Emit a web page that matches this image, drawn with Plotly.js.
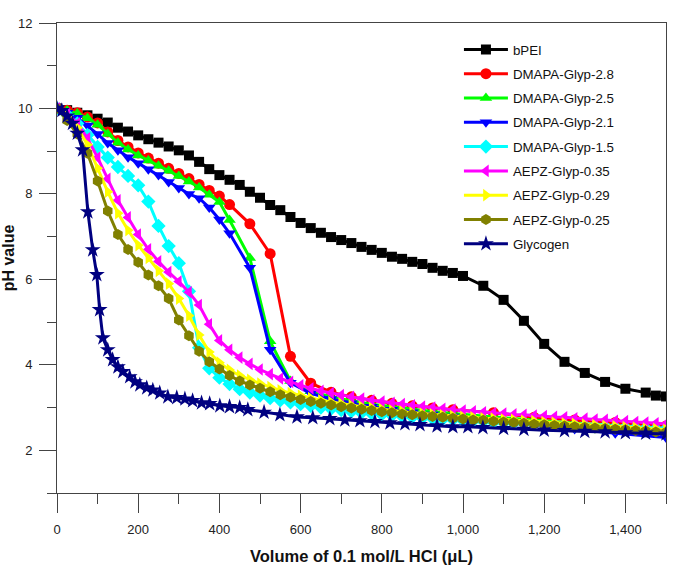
<!DOCTYPE html>
<html>
<head>
<meta charset="utf-8">
<script src="https://cdn.plot.ly/plotly-3.0.1.min.js"></script>
<style>html,body{margin:0;padding:0;background:#fff;}#chart{width:673px;height:565px;}</style>
</head>
<body>
<div id="chart"></div>
<script>
// ---- data ----
const seriesNames = ["bPEI","DMAPA-Glyp-2.8","DMAPA-Glyp-2.5","DMAPA-Glyp-2.1","DMAPA-Glyp-1.5","AEPZ-Glyp-0.35","AEPZ-Glyp-0.29","AEPZ-Glyp-0.25","Glycogen"];

const bpeiX = [0,25,50,75,100,125,150,175,200,225,250,275,300,325,350,375,400,425,450,475,500,525,550,575,600,625,650,675,700,725,750,775,800,825,850,875,900,925,950,975,1000,1050,1100,1150,1200,1250,1300,1350,1400,1450,1475,1500];
const bpeiY = [10.0,9.96,9.9,9.84,9.76,9.67,9.55,9.46,9.37,9.28,9.2,9.11,9.02,8.9,8.75,8.58,8.44,8.33,8.21,8.05,7.91,7.74,7.62,7.46,7.32,7.2,7.09,6.99,6.92,6.85,6.76,6.69,6.62,6.53,6.48,6.41,6.36,6.27,6.2,6.15,6.08,5.85,5.52,5.03,4.49,4.07,3.81,3.6,3.44,3.35,3.28,3.26];

const dmapaX = [0,25,50,75,100,125,150,175,200,225,250,275,300,325,350,375,400,425,475,525,575,625,675,725,775,825,875,925,975,1075,1175,1275,1375,1500];
const dmapa28Y = [10.0,9.96,9.9,9.8,9.66,9.45,9.25,9.1,8.96,8.84,8.72,8.6,8.48,8.36,8.22,8.08,7.95,7.75,7.3,6.6,4.2,3.57,3.36,3.25,3.17,3.1,3.04,2.99,2.95,2.88,2.77,2.71,2.65,2.57];
const dmapa25Y = [10.0,9.95,9.88,9.77,9.62,9.4,9.2,9.04,8.9,8.78,8.66,8.54,8.42,8.29,8.15,7.98,7.81,7.39,6.5,4.55,3.62,3.38,3.25,3.16,3.08,3.02,2.96,2.91,2.86,2.78,2.7,2.63,2.57,2.5];
const dmapa21Y = [10.0,9.9,9.78,9.6,9.4,9.19,9.02,8.86,8.72,8.58,8.44,8.28,8.14,8.0,7.9,7.68,7.4,7.08,6.27,4.35,3.58,3.33,3.2,3.1,3.02,2.95,2.89,2.84,2.79,2.7,2.6,2.5,2.4,2.3];

const stepX = [0,25,50,75,100,125,150,175,200,225,250,275,300,325,350,375,400,425,450,475,500,525,550,575,600,625,650,675,700,725,750,775,800,825,850,875,900,925,950,975,1000,1025,1050,1075,1100,1125,1150,1175,1200,1225,1250,1275,1300,1325,1350,1375,1400,1425,1450,1475,1500];
const dmapa15Y = [10.0,9.85,9.65,9.38,9.1,8.85,8.63,8.42,8.2,7.82,7.25,6.78,6.38,5.72,4.4,3.92,3.7,3.55,3.43,3.35,3.28,3.22,3.17,3.12,3.08,3.04,3.0,2.97,2.94,2.91,2.88,2.86,2.84,2.82,2.8,2.78,2.76,2.75,2.73,2.72,2.7,2.69,2.68,2.66,2.65,2.64,2.63,2.62,2.61,2.6,2.59,2.58,2.57,2.56,2.55,2.54,2.53,2.52,2.51,2.5,2.5];
const aepz35Y = [10.0,9.88,9.65,9.3,8.85,8.35,7.85,7.45,7.05,6.7,6.42,6.17,5.95,5.7,5.4,4.95,4.57,4.35,4.17,4.02,3.89,3.78,3.68,3.6,3.52,3.45,3.39,3.34,3.29,3.25,3.21,3.17,3.14,3.11,3.08,3.05,3.02,3.0,2.97,2.95,2.93,2.91,2.89,2.87,2.86,2.84,2.83,2.81,2.8,2.78,2.77,2.75,2.74,2.72,2.71,2.69,2.68,2.66,2.65,2.63,2.62];
const aepz29Y = [10.0,9.82,9.55,9.15,8.6,8.05,7.55,7.15,6.8,6.5,6.2,5.9,5.55,5.15,4.7,4.3,4.05,3.88,3.75,3.65,3.56,3.48,3.4,3.34,3.28,3.22,3.17,3.13,3.09,3.05,3.02,2.99,2.96,2.93,2.91,2.88,2.86,2.84,2.82,2.8,2.78,2.77,2.75,2.74,2.72,2.71,2.69,2.68,2.66,2.65,2.63,2.62,2.6,2.59,2.57,2.56,2.54,2.53,2.51,2.5,2.48];
const aepz25Y = [10.0,9.72,9.4,8.95,8.3,7.6,7.05,6.7,6.4,6.1,5.85,5.55,5.05,4.68,4.32,4.07,3.9,3.75,3.62,3.53,3.45,3.37,3.3,3.24,3.19,3.14,3.1,3.06,3.02,2.99,2.96,2.93,2.9,2.88,2.85,2.83,2.81,2.79,2.77,2.75,2.73,2.71,2.7,2.68,2.66,2.65,2.63,2.61,2.6,2.58,2.57,2.55,2.54,2.52,2.51,2.49,2.48,2.46,2.45,2.43,2.42];

const glyX = [0,12,25,38,50,63,76,88,98,105,113,125,137,150,162,179,192,204,221,236,253,273,295,315,334,356,376,401,425,450,470,510,549,591,630,672,709,746,783,820,857,894,936,975,1012,1049,1100,1150,1200,1250,1300,1350,1400,1450,1500];
const glyY = [10.0,9.95,9.82,9.65,9.42,9.03,7.58,6.69,6.11,5.29,4.63,4.35,4.12,3.95,3.84,3.72,3.6,3.53,3.46,3.41,3.34,3.25,3.23,3.2,3.16,3.11,3.09,3.04,3.02,3.0,2.95,2.89,2.83,2.78,2.76,2.74,2.71,2.69,2.67,2.64,2.62,2.6,2.57,2.55,2.55,2.53,2.51,2.49,2.47,2.46,2.44,2.43,2.41,2.4,2.38];

const xTickVals = [0,200,400,600,800,1000,1200,1400];
const yTickVals = [2,4,6,8,10,12];

// ---- styles ----
const colors = ["#000000","#FF0000","#00FF00","#0000FF","#00FFFF","#FF00FF","#FFFF00","#808000","#000080"];
const symbols = ["square","circle","triangle-up","triangle-down","diamond","triangle-left","triangle-right","hexagon","star"];
const sizes = [10,11,11,11,11,11,11,11,12];
const xs = [bpeiX,dmapaX,dmapaX,dmapaX,stepX,stepX,stepX,stepX,glyX];
const ys = [bpeiY,dmapa28Y,dmapa25Y,dmapa21Y,dmapa15Y,aepz35Y,aepz29Y,aepz25Y,glyY];

const traces = seriesNames.map((n,i)=>({
  type:'scatter', mode:'lines+markers', name:n,
  x: xs[i], y: ys[i], legendgroup:'g'+i,
  line:{color:colors[i], width:3},
  marker:{color:colors[i], symbol:symbols[i], size:sizes[i], line:{width:0}}
}));

const font = 'Liberation Sans, Arial, sans-serif';
const layout = {
  width:673, height:565,
  margin:{l:57, r:7, t:23, b:72},
  paper_bgcolor:'#fff', plot_bgcolor:'#fff',
  font:{family:font, size:13, color:'#222'},
  showlegend:true,
  legend:{x:0.66, y:0.976, xanchor:'left', yanchor:'top', bgcolor:'rgba(0,0,0,0)',
          borderwidth:0, font:{family:font, size:13.3, color:'#111'},
          traceorder:'grouped', tracegroupgap:4.0, itemwidth:44},
  xaxis:{range:[0,1500], tickvals:xTickVals, ticks:'outside', ticklen:19, tickwidth:1, tickcolor:'#444',
         tickformat:',d', showgrid:false, zeroline:false, showline:true, linecolor:'#444', linewidth:1, mirror:true,
         ticklabelstandoff:5,
         minor:{dtick:100, tick0:0, ticks:'outside', ticklen:10, tickcolor:'#444', showgrid:false},
         tickfont:{family:font, size:13, color:'#222'},
         title:{text:'<b>Volume of 0.1 mol/L HCl (μL)</b>', font:{family:font, size:16.5, color:'#111'}, standoff:14}},
  yaxis:{range:[1,12], tickvals:yTickVals, ticks:'outside', ticklen:17, tickwidth:1, tickcolor:'#444',
         showgrid:false, zeroline:false, showline:true, linecolor:'#444', linewidth:1, mirror:true,
         ticklabelstandoff:4,
         minor:{dtick:1, tick0:0, ticks:'outside', ticklen:9, tickcolor:'#444', showgrid:false},
         tickfont:{family:font, size:13, color:'#222'},
         title:{text:'<b>pH value</b>', font:{family:font, size:16, color:'#111'}, standoff:2}}
};
Plotly.newPlot('chart', traces, layout, {displayModeBar:false, staticPlot:true});
</script>
</body>
</html>
